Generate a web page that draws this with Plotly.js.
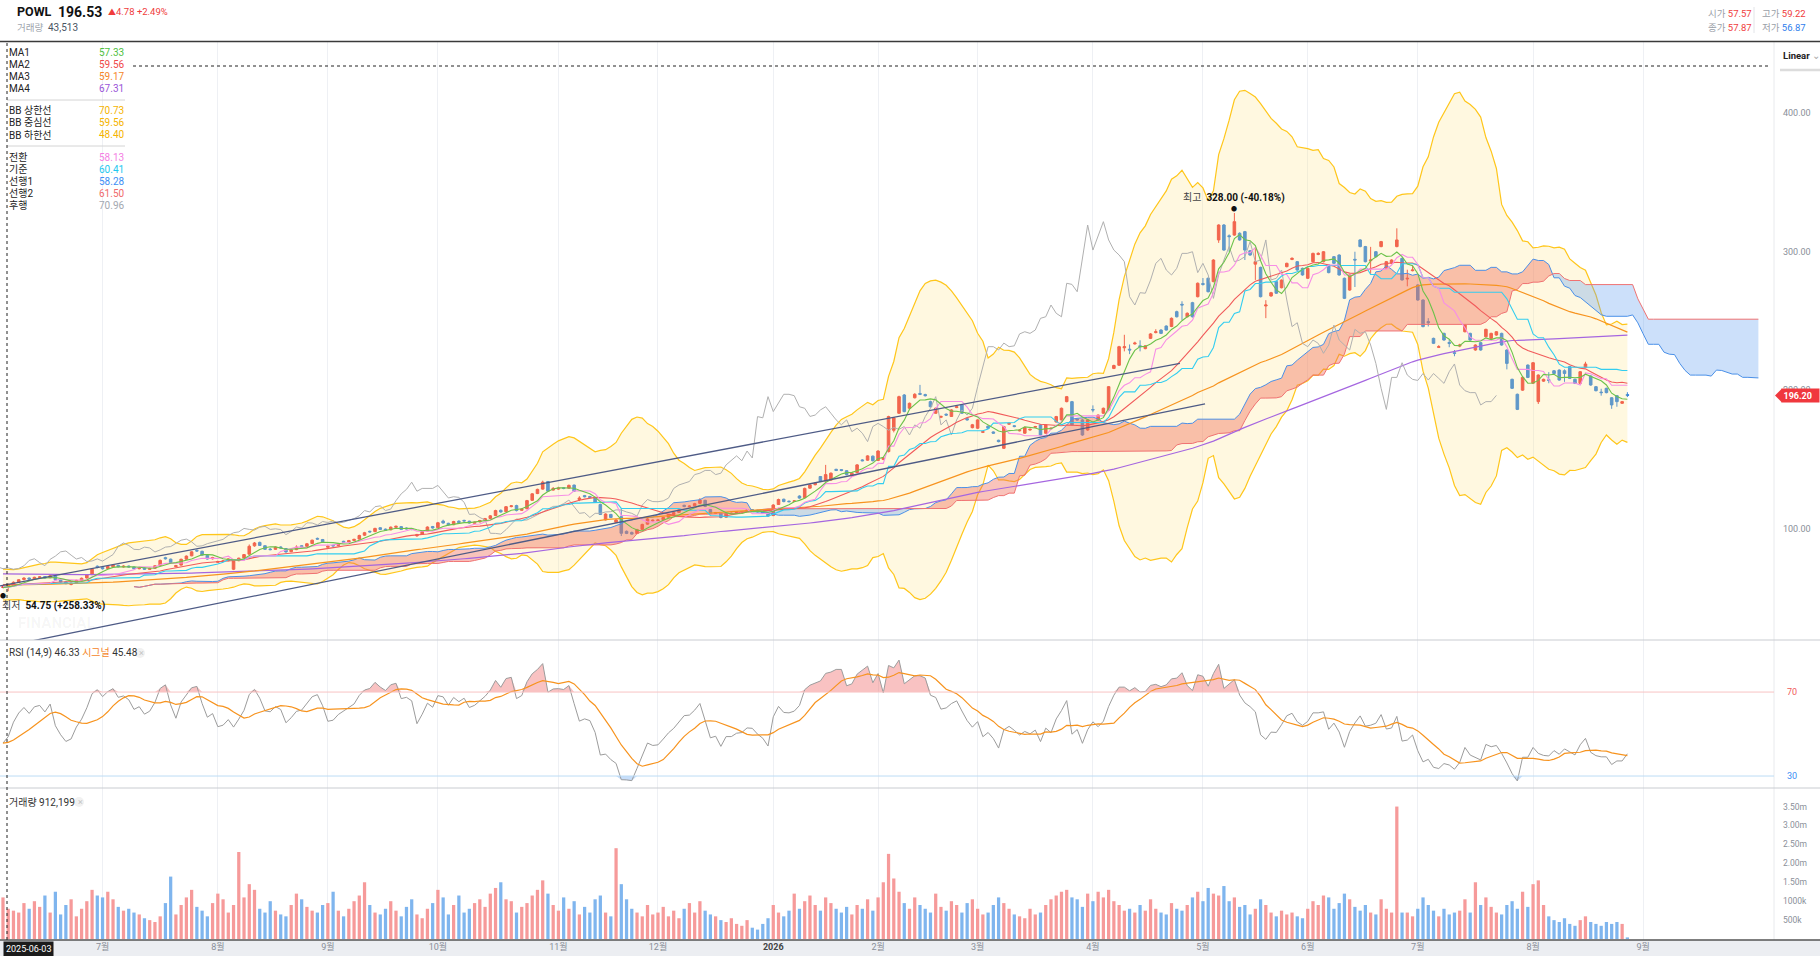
<!DOCTYPE html>
<html><head><meta charset="utf-8">
<script src="https://cdn.plot.ly/plotly-3.0.1.min.js"></script>
<style>html,body{margin:0;padding:0;background:#fff;overflow:hidden}#chart{width:1820px;height:956px}</style>
</head><body><div id="chart"></div>
<script>
// ---------------- DATA ----------------
const ticker = 'POWL';
const openP = [
57.57,57.9,58.8,61.0,63.2,64.3,63.5,64.6,65.3,64.5,
65.6,62.8,61.5,59.6,60.8,62.7,64.3,66.8,72.8,71.8,
71.2,72.4,73.4,72.3,72.9,72.2,71.0,71.5,70.5,71.3,
73.4,79.0,77.9,72.5,73.6,77.9,80.3,84.2,83.6,80.6,
78.2,75.6,76.4,76.8,70.6,76.8,78.8,81.5,87.5,90.0,
87.6,85.2,85.0,86.7,85.6,83.3,84.8,87.6,87.2,89.2,
92.9,92.1,86.5,87.9,87.7,90.8,90.3,91.4,92.4,95.2,
98.0,97.8,100.6,99.6,99.1,100.9,101.4,100.4,100.0,94.8,
95.8,98.2,101.5,100.6,105.4,103.8,102.8,105.3,105.9,105.3,
103.8,104.8,105.9,107.3,109.4,113.2,112.2,115.9,116.6,113.2,
114.3,120.4,125.3,128.5,134.0,127.8,128.5,129.4,129.2,131.4,
121.0,123.8,123.2,122.3,117.4,106.3,110.2,104.5,108.6,98.0,
97.2,96.4,99.4,103.2,105.5,105.8,106.4,108.2,110.2,111.7,
116.8,115.8,116.4,118.2,120.4,113.8,111.0,111.0,108.2,110.8,
111.2,112.0,112.4,113.6,113.2,112.0,111.0,109.4,117.4,121.2,
119.8,119.6,123.5,122.3,129.2,131.7,137.6,134.4,135.0,142.8,
142.6,141.8,138.0,140.4,149.6,149.4,152.3,149.2,150.0,155.6,
171.0,183.3,196.5,186.9,194.5,197.6,196.8,191.7,183.3,180.4,
182.6,181.0,187.4,189.3,179.4,172.9,172.5,169.5,174.0,169.8,
163.8,158.0,175.4,174.3,170.6,168.9,171.2,173.2,174.9,168.9,
172.0,177.0,178.5,191.7,191.7,179.2,178.5,171.2,186.0,178.5,
183.3,185.7,215.7,218.0,230.6,229.6,233.4,232.0,230.0,237.4,
241.6,243.4,246.3,246.0,256.7,262.0,253.0,263.2,267.5,277.0,
280.8,278.4,308.5,319.3,311.5,312.0,313.3,314.5,300.7,291.0,
288.7,260.8,268.0,278.4,274.0,289.2,294.4,292.8,288.0,280.8,
292.8,298.0,292.8,290.4,296.4,297.6,280.8,272.3,294.5,308.5,
303.7,293.5,300.0,303.7,288.0,291.6,303.7,295.2,280.3,286.3,
276.0,265.1,249.5,237.4,230.9,241.0,234.4,227.0,231.8,242.2,
241.0,229.0,234.3,238.6,237.4,239.8,241.0,229.0,207.8,197.0,
200.0,218.1,205.0,191.7,206.5,207.5,214.0,214.5,214.0,217.0,
207.8,204.9,216.5,210.2,202.5,198.6,201.3,194.5,196.0,190.5,196.8];
const highP = [
59.22,60.4,61.8,63.4,64.9,64.6,65.2,65.7,65.5,66.6,
65.9,63.3,61.9,61.0,63.0,64.6,67.0,71.2,73.4,72.4,
73.1,74.3,73.8,73.5,73.3,72.6,72.2,71.9,71.8,73.6,
77.6,79.6,78.3,73.8,78.3,80.6,83.7,85.0,84.0,80.9,
79.6,76.8,77.2,78.6,77.0,79.0,81.6,88.5,90.3,90.6,
87.9,85.9,87.1,87.2,85.9,85.1,87.9,88.0,89.6,92.0,
93.5,92.5,87.8,88.3,89.6,91.2,91.8,92.7,95.6,97.6,
98.5,100.6,101.0,100.0,101.5,102.2,101.8,100.8,100.4,96.2,
98.4,101.6,101.9,104.8,106.4,104.2,105.6,106.0,106.4,105.7,
105.1,106.3,107.7,109.8,113.6,113.8,116.3,117.0,117.2,114.6,
120.7,125.6,128.8,134.6,134.4,130.0,130.2,129.8,131.8,131.8,
123.4,124.3,123.6,122.7,118.0,111.0,110.6,106.8,114.8,98.6,
97.8,99.8,103.5,107.5,106.6,106.8,108.5,110.5,112.0,114.0,
117.2,116.8,118.6,122.0,120.8,114.2,112.0,111.4,111.4,111.6,
112.5,112.7,114.0,114.0,113.6,112.4,111.4,117.6,121.6,121.6,
120.2,120.6,124.0,129.6,132.0,133.3,138.0,146.0,140.6,143.2,
143.0,142.2,140.6,146.6,150.2,153.0,152.8,156.6,151.8,181.5,
180.6,196.0,197.2,191.0,197.8,203.8,197.4,192.4,187.4,181.6,
183.2,186.2,188.6,189.8,180.0,175.6,179.0,170.6,174.4,170.2,
164.2,174.2,176.6,174.7,171.6,173.6,172.2,174.2,175.4,175.4,
173.0,181.4,187.4,195.8,192.2,179.6,179.2,178.9,189.0,182.4,
187.4,203.0,218.4,232.0,240.0,233.0,235.0,236.0,232.4,241.2,
244.0,244.0,246.8,252.5,257.4,264.2,256.2,263.8,277.8,281.0,
281.5,294.6,319.8,320.0,312.5,328.0,314.0,315.0,301.2,303.0,
289.2,265.0,271.0,279.0,280.0,292.1,296.0,293.3,288.5,288.5,
299.3,299.6,300.5,290.9,296.9,298.1,281.3,283.7,300.0,309.0,
304.2,303.5,300.5,307.8,293.3,294.5,316.9,295.7,287.0,290.0,
276.5,265.6,252.0,237.9,232.5,241.5,236.5,229.0,233.5,247.5,
241.5,233.1,234.8,244.4,241.5,242.7,241.5,229.5,208.3,197.5,
209.7,218.6,220.3,211.4,208.3,213.0,214.5,215.0,215.0,217.5,
208.3,213.8,220.5,210.7,203.0,201.0,201.8,195.0,196.5,192.2,198.5];
const lowP = [
56.87,54.75,58.5,60.7,62.6,62.8,63.0,64.1,63.9,64.1,
62.6,61.0,59.8,59.0,60.4,62.2,63.9,66.3,71.3,70.4,
70.8,72.0,71.9,71.8,71.8,70.6,70.5,70.1,70.2,71.0,
73.0,77.6,75.0,72.0,73.3,77.5,80.0,83.2,80.4,77.6,
77.6,75.1,75.8,76.4,70.0,76.4,78.4,81.2,86.9,87.4,
84.6,84.3,84.7,85.7,82.6,82.9,84.4,86.5,86.8,88.8,
91.9,90.0,86.1,86.9,87.2,89.8,90.0,91.0,92.0,94.6,
97.0,97.4,98.9,98.4,98.7,100.5,99.0,99.4,98.8,94.0,
95.4,97.8,99.9,100.2,103.6,102.2,102.4,104.0,105.0,103.6,
103.4,104.4,105.5,106.9,109.0,111.5,111.8,115.3,112.4,112.8,
114.0,120.0,124.9,128.1,126.5,127.4,128.0,128.4,128.8,126.6,
119.8,122.5,122.0,118.5,109.8,105.8,107.6,104.0,94.6,96.0,
95.6,96.0,99.0,102.8,105.0,105.4,106.0,107.8,109.8,111.3,
115.4,115.4,116.0,117.8,115.5,110.6,110.5,107.4,107.8,110.4,
110.8,111.6,112.0,112.9,111.6,110.6,108.4,109.0,117.0,119.0,
119.0,119.2,121.6,122.0,128.8,131.2,133.6,134.0,134.6,141.5,
141.4,138.5,137.6,140.0,148.6,149.0,148.5,148.8,149.4,155.0,
169.5,182.8,184.0,186.4,194.0,196.4,195.4,187.6,182.8,179.8,
181.4,180.6,187.0,182.8,178.0,172.4,172.0,169.0,172.0,168.4,
162.3,157.5,175.0,173.2,170.2,168.4,170.8,172.8,167.0,168.4,
171.6,176.5,178.0,191.2,174.4,178.0,167.0,170.6,184.0,178.0,
182.8,185.2,215.2,217.5,228.0,226.0,232.9,228.0,229.5,236.9,
241.0,240.5,243.0,245.5,252.5,250.7,252.5,252.5,267.0,275.5,
270.6,277.9,306.4,300.7,300.0,311.5,308.0,294.0,297.1,279.6,
267.0,252.0,267.5,269.5,273.5,288.7,293.9,286.3,282.7,280.3,
292.3,297.5,292.3,284.4,291.1,282.7,265.8,271.8,274.5,303.2,
292.3,284.0,295.9,303.2,287.5,291.1,303.2,279.1,275.0,285.8,
264.6,245.4,246.0,233.3,230.4,235.7,231.0,224.5,231.0,241.7,
235.7,228.5,228.5,238.1,236.9,239.3,232.1,215.0,200.8,185.6,
199.5,208.7,204.5,190.0,206.0,205.0,211.5,206.8,206.0,208.0,
204.4,204.4,216.0,203.2,199.1,196.0,197.7,186.5,188.0,190.0,195.0];
const closeP = [
57.87,58.8,61.2,63.0,64.2,63.4,64.8,65.1,64.3,65.9,
62.9,61.4,60.2,60.6,62.6,64.1,66.6,70.6,72.0,71.0,
72.6,73.6,72.4,72.8,72.3,71.0,71.6,70.6,71.2,73.1,
77.0,78.2,75.4,73.2,77.8,80.1,83.2,83.8,80.8,78.0,
79.1,76.2,76.6,78.1,76.5,78.6,81.2,87.2,89.6,87.8,
85.0,84.8,86.6,86.0,83.1,84.6,86.6,87.0,89.0,91.6,
92.4,90.4,87.2,87.5,89.1,90.2,91.3,92.2,95.0,97.0,
97.6,100.1,99.4,98.9,101.0,101.6,99.4,99.8,99.3,95.6,
97.9,101.1,100.4,104.2,104.0,102.6,105.1,104.4,105.5,104.0,
104.6,105.8,107.2,109.2,113.0,112.0,115.8,116.4,113.0,114.1,
120.2,125.1,128.3,133.5,127.0,129.0,129.2,129.0,131.2,127.0,
122.1,123.0,122.5,119.0,110.2,110.5,108.0,106.2,96.6,96.5,
96.0,99.2,103.0,107.0,106.0,106.2,108.0,110.0,111.5,113.5,
116.0,116.2,118.0,120.6,116.0,111.0,111.5,108.0,111.0,111.0,
112.0,112.2,113.5,113.4,112.0,111.0,109.0,117.0,121.0,119.5,
119.4,120.0,122.0,129.0,131.5,132.8,134.0,139.0,140.0,142.0,
142.0,139.0,140.0,146.0,149.0,152.5,149.0,156.0,151.0,180.9,
180.0,195.3,184.5,190.5,197.0,197.0,196.0,188.0,186.9,181.0,
182.0,185.7,188.0,183.3,178.5,175.0,178.5,170.0,172.5,168.9,
162.8,173.7,176.0,173.7,171.0,173.0,171.7,173.7,167.6,174.9,
172.5,180.9,186.9,195.3,174.9,178.5,167.6,178.5,185.7,182.0,
186.9,202.5,217.8,231.4,231.4,229.0,234.0,231.4,232.0,240.6,
242.2,241.0,243.4,251.9,253.0,261.5,255.5,253.0,277.2,276.4,
271.1,294.0,319.3,301.2,310.9,321.7,308.5,301.2,297.6,292.8,
267.5,261.5,270.4,270.0,279.5,291.6,295.2,286.8,283.2,288.0,
298.8,298.8,300.0,284.9,291.6,283.2,266.3,283.2,294.0,303.7,
292.8,294.0,296.4,307.3,292.8,294.0,308.5,279.6,280.8,286.8,
265.1,245.9,248.7,233.8,231.4,236.2,233.8,226.6,232.6,247.0,
236.2,232.6,229.0,243.9,241.0,242.2,232.6,219.3,201.3,186.1,
209.2,209.2,219.8,210.9,207.8,207.0,212.0,207.3,212.0,208.5,
204.9,213.3,218.9,203.7,199.6,198.2,198.2,189.3,191.7,191.7,196.2];
const volumeK = [
1100,800,750,700,950,800,1000,850,1150,700,
1250,650,900,1050,600,800,1000,1300,1150,1100,
1250,1050,850,750,800,700,650,550,500,450,
600,950,1650,650,900,1100,1300,850,750,600,
950,1200,1050,700,900,2300,1100,1450,1300,800,
700,1000,750,650,600,900,1200,1050,850,750,
700,900,950,1250,750,600,800,1000,1150,1500,
900,700,650,800,1000,750,600,850,1050,650,
550,800,950,1300,1100,650,900,1150,700,800,
950,1050,850,1200,1350,1500,1050,1000,700,850,
950,1150,1300,1550,1200,900,750,1100,800,1000,
650,850,700,1050,1150,700,600,2400,1450,1050,
800,700,600,900,650,700,850,600,750,550,
800,950,700,1000,750,650,600,500,450,550,
400,350,500,300,250,400,550,900,700,600,
750,1200,800,1000,1150,900,750,1100,950,800,
700,850,650,900,800,1050,750,1100,1500,2250,
1600,1250,950,800,1100,900,800,700,1200,850,
750,1000,900,700,950,1050,800,650,700,900,
1100,950,800,650,600,550,800,650,700,900,
1050,1150,1250,1300,1100,1050,850,1200,1000,1250,
1100,1300,1000,900,750,800,700,900,750,1050,
800,700,650,950,800,750,900,1100,1250,1000,
1350,1200,1150,1400,1000,1100,850,900,650,800,
1050,900,700,600,750,650,700,600,550,800,
1000,900,1150,1100,800,950,1200,1050,850,750,
900,700,650,1050,800,700,3500,700,700,600,
800,1100,900,750,600,800,650,700,750,1050,
700,1500,900,1100,850,700,650,900,1000,800,
1250,850,1450,1550,900,600,500,450,550,400,
350,500,600,450,400,350,450,400,450,400,44];
// month ticks (trading-day index of the first session of each month)
const monthIdx = [19,41,62,83,106,125,147,167,186,208,229,249,270,292,313];
const monthLabels = ['7월','8월','9월','10월','11월','12월','2026','2월','3월','4월','5월','6월','7월','8월','9월'];
// user-drawn trend lines (index, price)
const trendAx = [-0.57, 224.6], trendAy = [58.6, 219.4];
const trendBx = [0, 229.4],     trendBy = [14.6, 190.0];
// indicator values shown in the legend for the first session (used to seed the windows)
const seedMA = {5:57.33, 20:59.56, 60:59.17, 120:67.31};
const seedBBUpper = 70.73, seedRSI = 45.7;
// legend texts
const legendMA = [['MA1','57.33','#4fbf3f'],['MA2','59.56','#f04848'],['MA3','59.17','#f5862a'],['MA4','67.31','#9a55d8']];
const legendBB = [['BB 상한선','70.73'],['BB 중심선','59.56'],['BB 하한선','48.40']];
const legendIchi = [['전환','58.13','#f47fe3'],['기준','60.41','#1ec8f0'],['선행1','58.28','#3d8ff5'],['선행2','61.50','#f06b6b'],['후행','70.96','#a3a8b0']];

// ---------------- INDICATORS (computed from the candles) ----------------
const N = closeP.length;
const idx = closeP.map((_, i) => i);
function smaSeed(a, n, seed) {
  const p = (seed * n - a[0]) / (n - 1), o = [];
  for (let i = 0; i < a.length; i++) {
    const m = Math.max(0, n - 1 - i); let s = m * p;
    for (let k = Math.max(0, i - n + 1); k <= i; k++) s += a[k];
    o.push(s / n);
  }
  return o;
}
function midHL(n, i) {
  let h = -1e9, l = 1e9;
  for (let k = Math.max(0, i - n + 1); k <= i; k++) { h = Math.max(h, highP[k]); l = Math.min(l, lowP[k]); }
  return (h + l) / 2;
}
const ma5 = smaSeed(closeP, 5, seedMA[5]), ma20 = smaSeed(closeP, 20, seedMA[20]);
const ma60 = smaSeed(closeP, 60, seedMA[60]), ma120 = smaSeed(closeP, 120, seedMA[120]);
// Bollinger (20) with the band width of this chart
const BBK = 5.0;
const bbU = [], bbL = [];
(function () {
  const n = 20, mean0 = seedMA[20], sd0 = (seedBBUpper - mean0) / BBK;
  const p = (mean0 * n - closeP[0]) / (n - 1);
  const vp = (n * (sd0 * sd0 + mean0 * mean0) - closeP[0] * closeP[0]) / (n - 1) - p * p;
  for (let i = 0; i < N; i++) {
    const m = Math.max(0, n - 1 - i); let S = m * p, Q = m * (vp + p * p);
    for (let k = Math.max(0, i - n + 1); k <= i; k++) { S += closeP[k]; Q += closeP[k] * closeP[k]; }
    const mu = S / n, sd = Math.sqrt(Math.max(0, Q / n - mu * mu));
    bbU.push(mu + BBK * sd); bbL.push(mu - BBK * sd);
  }
})();
const conv = idx.map(i => midHL(9, i)), base = idx.map(i => midHL(26, i));
const SH = 25;
const cx = idx.map(i => i + SH), s1 = idx.map(i => (conv[i] + base[i]) / 2), s2 = idx.map(i => midHL(52, i));
// RSI (Wilder 14) seeded with the first-session value, and signal (9)
const rsi = [seedRSI]; let ag = 0.55, al = 0.55 * (100 / seedRSI - 1);
for (let i = 1; i < N; i++) {
  const ch = closeP[i] - closeP[i - 1], g = Math.max(ch, 0), l = Math.max(-ch, 0);
  ag = (ag * 13 + g) / 14; al = (al * 13 + l) / 14;
  rsi.push(al === 0 ? 100 : 100 - 100 / (1 + ag / al));
}
const rsiSig = smaSeed(rsi, 9, seedRSI);

// ---------------- STYLE ----------------
const F = 'Roboto, "Noto Sans CJK KR", sans-serif';
const UP = '#ee3b3b', DN = '#2b7fe0';
const W = 1820, H = 956, PR = 1774;
const px = x => x / W, py = y => 1 - y / H;

const traces = [];
const L = (x, y, color, w, ax, extra) => Object.assign({type:'scatter', mode:'lines', x, y, line:{color, width:w}, hoverinfo:'skip', xaxis:'x', yaxis:ax || 'y'}, extra || {});
traces.push(L(idx, bbL, '#ffc61a', 1.2));
traces.push(L(idx, bbU, '#ffc61a', 1.2, 'y', {fill:'tonexty', fillcolor:'rgba(255,226,130,0.25)'}));
(function () {
  let X = [], Y1 = [], Y2 = [], sign = null;
  const flush = () => {
    if (X.length > 1) {
      traces.push({type:'scatter', mode:'lines', x:X.concat(X.slice().reverse()), y:Y1.concat(Y2.slice().reverse()),
        fill:'toself', fillcolor: sign > 0 ? 'rgba(240,105,85,0.40)' : 'rgba(95,160,240,0.32)', line:{width:0}, hoverinfo:'skip', xaxis:'x', yaxis:'y'});
    }
  };
  for (let k = 0; k < cx.length; k++) {
    const d = s1[k] - s2[k], sg = d >= 0 ? 1 : -1;
    if (sign === null) sign = sg;
    else if (sg !== sign) {
      const dp = s1[k - 1] - s2[k - 1], f = dp / (dp - d);
      const xc = cx[k - 1] + f, yc = s1[k - 1] + f * (s1[k] - s1[k - 1]);
      X.push(xc); Y1.push(yc); Y2.push(yc); flush();
      X = [xc]; Y1 = [yc]; Y2 = [yc]; sign = sg;
    }
    X.push(cx[k]); Y1.push(s1[k]); Y2.push(s2[k]);
  }
  flush();
})();
traces.push(L(cx, s1, '#4a90e8', 1));
traces.push(L(cx, s2, '#f07272', 1));
traces.push(L(idx, ma120, '#a566e0', 1.2));
traces.push(L(idx, ma60, '#f7931e', 1.2));
traces.push(L(idx.map(i => i - SH), closeP, '#b0b0b0', 1));
traces.push(L(idx, ma20, '#f15a5a', 1.1));
traces.push(L(idx, base, '#33cdf0', 1.1));
traces.push(L(idx, conv, '#f78ee6', 1.1));
traces.push(L(idx, ma5, '#6cc24a', 1.1));
traces.push(L(trendAx, trendAy, '#4e5b86', 1.3));
traces.push(L(trendBx, trendBy, '#4e5b86', 1.3));
traces.push({type:'candlestick', x:idx, open:openP, high:highP, low:lowP, close:closeP, xaxis:'x', yaxis:'y',
  increasing:{line:{color:UP, width:1}, fillcolor:UP}, decreasing:{line:{color:DN, width:1}, fillcolor:DN},
  whiskerwidth:0, hoverinfo:'skip'});
traces.push({type:'bar', x:idx, y:volumeK.map(v => v * 1000), width:0.62, xaxis:'x', yaxis:'y3', hoverinfo:'skip',
  marker:{color: idx.map(i => closeP[i] >= openP[i] ? '#f69a9a' : '#7fb5ee'), line:{width:0}}});
traces.push(L(idx, idx.map(() => 70), 'rgba(0,0,0,0)', 0, 'y2'));
traces.push(L(idx, rsi.map(v => Math.max(v, 70)), 'rgba(0,0,0,0)', 0, 'y2', {fill:'tonexty', fillcolor:'rgba(240,95,95,0.38)'}));
traces.push(L(idx, idx.map(() => 30), 'rgba(0,0,0,0)', 0, 'y2'));
traces.push(L(idx, rsi.map(v => Math.min(v, 30)), 'rgba(0,0,0,0)', 0, 'y2', {fill:'tonexty', fillcolor:'rgba(95,160,240,0.35)'}));
traces.push(L(idx, rsi, '#9c9c9c', 1, 'y2'));
traces.push(L(idx, rsiSig, '#f7931e', 1.2, 'y2'));

// ---------------- ANNOTATIONS & SHAPES ----------------
const ann = [];
const T = (x, y, text, o) => ann.push(Object.assign({xref:'paper', yref:'paper', x:px(x), y:py(y), text, showarrow:false,
  xanchor:'left', yanchor:'middle', font:{family:F, size:10, color:'#222'}}, o || {}));
T(15, 12, '<b>' + ticker + '</b>', {font:{family:F, size:12.5, color:'#111'}});
T(56, 12, '<b>196.53</b>', {font:{family:F, size:14, color:'#111'}});
T(106, 12, '<span style="font-size:8px">▲</span>4.78 +2.49%', {font:{family:F, size:9.5, color:'#f03c3c'}});
T(15, 27, '거래량', {font:{family:F, size:9.5, color:'#a0a6ae'}});
T(46, 27, '43,513', {font:{family:F, size:10, color:'#4a5563'}});
T(1706, 14, '시가 <span style="color:#f03c3c">57.57</span>', {font:{family:F, size:9.5, color:'#9aa0a8'}});
T(1760, 14, '고가 <span style="color:#f03c3c">59.22</span>', {font:{family:F, size:9.5, color:'#9aa0a8'}});
T(1706, 27, '종가 <span style="color:#f03c3c">57.87</span>', {font:{family:F, size:9.5, color:'#9aa0a8'}});
T(1760, 27, '저가 <span style="color:#2f80ed">56.87</span>', {font:{family:F, size:9.5, color:'#9aa0a8'}});
T(1781, 55, '<b>Linear</b> <span style="color:#aaa">⌄</span>', {font:{family:F, size:9.5, color:'#222'}});
const legY1 = [52.7, 64.7, 76.7, 88.7], legY2 = [110.7, 122.7, 134.7], legY3 = [157.3, 169.3, 181.3, 193.3, 205.3];
legendMA.forEach((r, k) => { T(7, legY1[k], r[0]); T(126, legY1[k], r[1], {xanchor:'right', font:{family:F, size:10, color:r[2]}}); });
legendBB.forEach((r, k) => { T(7, legY2[k], r[0]); T(126, legY2[k], r[1], {xanchor:'right', font:{family:F, size:10, color:'#f5b400'}}); });
legendIchi.forEach((r, k) => { T(7, legY3[k], r[0]); T(126, legY3[k], r[1], {xanchor:'right', font:{family:F, size:10, color:r[2]}}); });
T(7, 653, 'RSI (14,9) 46.33 <span style="color:#f5862a">시그널</span> 45.48', {font:{family:F, size:10, color:'#333'}});
T(137, 653, '×', {font:{family:F, size:9, color:'#c4c4c4'}});
T(7, 802, '거래량 912,199', {font:{family:F, size:10, color:'#333'}});
T(76, 802, '×', {font:{family:F, size:9, color:'#c4c4c4'}});
T(16, 623, '<b>FINANCIAL</b>', {font:{family:F, size:15, color:'rgba(0,0,0,0.05)'}});
T(1785, 692, '70', {font:{family:F, size:9, color:'#f05a5a'}});
T(1785, 776, '30', {font:{family:F, size:9, color:'#3d8ff5'}});
T(29, 948.5, '2025-06-03', {xanchor:'center', font:{family:F, size:9, color:'#fff'}, bgcolor:'#1b1b1b', borderpad:2});
ann.push({xref:'paper', yref:'y', x:px(1781), y:closeP[N - 1], text:'<b>' + closeP[N - 1].toFixed(2) + '</b>', showarrow:false,
  xanchor:'left', yanchor:'middle', width:34, align:'left', bgcolor:'#f0383e', borderpad:1.5, font:{family:F, size:9, color:'#fff'}});
let hi = 0, lo = 0;
for (let i = 1; i < N; i++) { if (highP[i] > highP[hi]) hi = i; if (lowP[i] < lowP[lo]) lo = i; }
ann.push({xref:'x', yref:'y', x:hi, y:highP[hi], text:'●', showarrow:false, yanchor:'bottom', yshift:-1, font:{size:6, color:'#111'}});
ann.push({xref:'x', yref:'y', x:hi, y:highP[hi], text:'<span style="color:#444">최고</span>  <b>' + highP[hi].toFixed(2) + ' (-40.18%)</b>', showarrow:false, yanchor:'bottom', yshift:7, font:{family:F, size:10, color:'#111'}});
ann.push({xref:'x', yref:'y', x:lo - 1, y:lowP[lo], text:'●', showarrow:false, yanchor:'top', yshift:1, font:{size:6, color:'#111'}});
ann.push({xref:'x', yref:'y', x:-0.57, y:lowP[lo], text:'<span style="color:#444">최저</span>  <b>' + lowP[lo].toFixed(2) + ' (+258.33%)</b>', showarrow:false, xanchor:'left', yanchor:'top', yshift:-7, font:{family:F, size:10, color:'#111'}});

const shapes = [
  {type:'rect', xref:'paper', yref:'paper', x0:0, x1:1, y0:0, y1:py(940), fillcolor:'#eceef2', line:{width:0}, layer:'below'},
  {type:'line', xref:'paper', yref:'paper', x0:px(PR), x1:px(PR), y0:py(940), y1:py(42), line:{color:'#e8eaed', width:1}},
  {type:'line', xref:'paper', yref:'paper', x0:0, x1:1, y0:py(41.5), y1:py(41.5), line:{color:'#3a3a3a', width:1.5}},
  {type:'line', xref:'paper', yref:'paper', x0:0, x1:1, y0:py(640), y1:py(640), line:{color:'#c9ccd1', width:1}},
  {type:'line', xref:'paper', yref:'paper', x0:0, x1:1, y0:py(788), y1:py(788), line:{color:'#c9ccd1', width:1}},
  {type:'line', xref:'paper', yref:'paper', x0:0, x1:1, y0:py(940), y1:py(940), line:{color:'#555', width:1.5}},
  {type:'line', xref:'paper', yref:'paper', x0:px(1754), x1:px(1754), y0:py(7), y1:py(33), line:{color:'#e2e4e8', width:1}},
  {type:'line', xref:'paper', yref:'paper', x0:px(1780), x1:1, y0:py(70), y1:py(70), line:{color:'#dcdcdc', width:2.5}},
  {type:'line', xref:'paper', yref:'paper', x0:px(7), x1:px(125), y0:py(100), y1:py(100), line:{color:'#d4d4d4', width:1}},
  {type:'line', xref:'paper', yref:'paper', x0:px(7), x1:px(125), y0:py(146), y1:py(146), line:{color:'#d4d4d4', width:1}},
  {type:'line', xref:'paper', yref:'y2', x0:0, x1:px(PR), y0:70, y1:70, line:{color:'#f8c4c4', width:1}},
  {type:'line', xref:'paper', yref:'y2', x0:0, x1:px(PR), y0:30, y1:30, line:{color:'#bcdcf5', width:1}},
  {type:'line', xref:'paper', yref:'paper', x0:px(133), x1:px(1769), y0:py(66), y1:py(66), line:{color:'#222', width:1, dash:'dot'}},
  {type:'line', xref:'paper', yref:'paper', x0:px(7), x1:px(7), y0:py(940), y1:py(42), line:{color:'#222', width:1, dash:'dot'}},
  {type:'path', xref:'paper', yref:'paper', path:`M ${px(1775)} ${py(395.5)} L ${px(1782)} ${py(388.5)} L ${px(1782)} ${py(402.5)} Z`, fillcolor:'#f0383e', line:{width:0}}
];
shapes.push({type:'circle', xref:'paper', yref:'paper', x0:px(135), x1:px(145), y0:py(648), y1:py(658), fillcolor:'#f1f1f1', line:{width:0}, layer:'below'});
shapes.push({type:'circle', xref:'paper', yref:'paper', x0:px(74), x1:px(84), y0:py(797), y1:py(807), fillcolor:'#f1f1f1', line:{width:0}, layer:'below'});

const layout = {
  width:W, height:H, margin:{l:0, r:0, t:0, b:0}, paper_bgcolor:'#fff', plot_bgcolor:'rgba(0,0,0,0)', showlegend:false,
  font:{family:F, size:10, color:'#333'}, hovermode:false, dragmode:false,
  xaxis:{domain:[0, px(PR)], range:[-0.57, 337.98], anchor:'y3', tickvals:monthIdx,
    ticktext:monthLabels.map(t => t === '2026' ? '<b><span style="color:#444">2026</span></b>' : t),
    showgrid:true, gridcolor:'#eef0f4', gridwidth:1, zeroline:false, showline:false, ticks:'',
    tickfont:{family:F, size:9, color:'#8a8f99'}, rangeslider:{visible:false}, fixedrange:true},
  yaxis:{domain:[py(640), py(42)], range:[19.5, 451.5], side:'right', anchor:'x', tickvals:[100, 200, 300, 400],
    ticktext:['100.00', '200.00', '300.00', '400.00'], showgrid:false, zeroline:false, ticks:'', ticklabelstandoff:8,
    tickfont:{family:F, size:9, color:'#8a8f99'}, fixedrange:true},
  yaxis2:{domain:[py(788), py(640)], range:[24.3, 94.8], anchor:'x', showticklabels:false, showgrid:false, zeroline:false, fixedrange:true},
  yaxis3:{domain:[py(940), py(788)], range:[-25000, 3990000], side:'right', anchor:'x',
    tickvals:[500000, 1000000, 1500000, 2000000, 2500000, 3000000, 3500000],
    ticktext:['500k', '1000k', '1.50m', '2.00m', '2.50m', '3.00m', '3.50m'], showgrid:false, zeroline:false, ticks:'',
    ticklabelstandoff:8, tickfont:{family:F, size:8.5, color:'#8a8f99'}, fixedrange:true},
  annotations:ann, shapes:shapes
};
Plotly.newPlot('chart', traces, layout, {staticPlot:true, displayModeBar:false});
</script>
</body></html>
